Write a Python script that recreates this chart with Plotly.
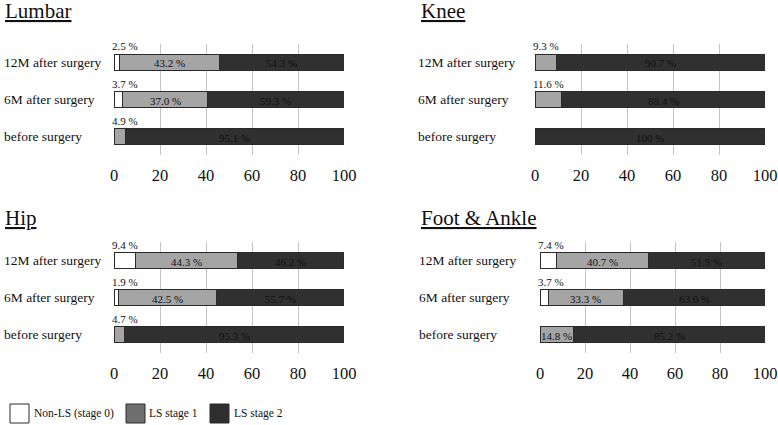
import plotly.graph_objects as go

# ---- data ----
categories = ["before surgery", "6M after surgery", "12M after surgery"]
panels = ["Lumbar", "Knee", "Hip", "Foot & Ankle"]
series_names = ["Non-LS (stage 0)", "LS stage 1", "LS stage 2"]

lumbar_stage0 = [0.0, 3.7, 2.5]
lumbar_stage1 = [4.9, 37.0, 43.2]
lumbar_stage2 = [95.1, 59.3, 54.3]

knee_stage0 = [0.0, 0.0, 0.0]
knee_stage1 = [0.0, 11.6, 9.3]
knee_stage2 = [100.0, 88.4, 90.7]

hip_stage0 = [0.0, 1.9, 9.4]
hip_stage1 = [4.7, 42.5, 44.3]
hip_stage2 = [95.3, 55.7, 46.2]

foot_stage0 = [0.0, 3.7, 7.4]
foot_stage1 = [14.8, 33.3, 40.7]
foot_stage2 = [85.2, 63.0, 51.9]

x_ticks = [0, 20, 40, 60, 80, 100]

# ---- styling ----
FONT = "Liberation Serif"
bar_colors = ["#ffffff", "#a5a5a5", "#303030"]
legend_colors = ["#ffffff", "#6e6e6e", "#2e2e2e"]
OUTSIDE_THRESHOLD = 12

panel_data = [
    (lumbar_stage0, lumbar_stage1, lumbar_stage2),
    (knee_stage0, knee_stage1, knee_stage2),
    (hip_stage0, hip_stage1, hip_stage2),
    (foot_stage0, foot_stage1, foot_stage2),
]

W, H = 778, 425
def px(x):
    return x / W
def py(y):
    return (H - y) / H

x_domains = [(114, 344), (535, 765), (114, 344), (540, 765)]
y_domains = [(44, 155), (44, 155), (242, 353), (242, 353)]
title_pos = [(3, 11), (419, 11), (3, 218), (419, 218)]
catlabel_x = [2, 416, 2, 417]

fig = go.Figure()
annotations = []

def fmt(v):
    return "100 %" if v >= 100 else f"{v:.1f} %"

for i, (name, stages) in enumerate(zip(panels, panel_data)):
    ax = "" if i == 0 else str(i + 1)
    xref, yref = "x" + ax, "y" + ax
    for s, vals in enumerate(stages):
        fig.add_trace(go.Bar(
            y=categories, x=vals, orientation="h",
            marker=dict(color=bar_colors[s], line=dict(color="#2a2a2a", width=1)),
            width=0.44, showlegend=False, name=series_names[s],
            xaxis=xref, yaxis=yref,
        ))
    # value labels
    for c, cat in enumerate(categories):
        cum = 0.0
        for s in range(3):
            v = stages[s][c]
            if v > 0:
                if v < OUTSIDE_THRESHOLD:
                    annotations.append(dict(
                        x=0, y=cat, xref=xref, yref=yref, text=fmt(v),
                        xanchor="left", yanchor="middle", xshift=-4, yshift=16,
                        showarrow=False, font=dict(family=FONT, size=11, color="#111")))
                else:
                    annotations.append(dict(
                        x=cum + v / 2, y=cat, xref=xref, yref=yref, text=fmt(v),
                        xanchor="center", yanchor="middle", yshift=-1,
                        showarrow=False, font=dict(family=FONT, size=11, color="#111")))
            cum += v
        # category label, left aligned
        annotations.append(dict(
            x=px(catlabel_x[i]), y=cat, xref="paper", yref=yref, text=cat,
            xanchor="left", yanchor="middle", showarrow=False,
            font=dict(family=FONT, size=13.5, color="#111")))
    # panel title
    tx, ty = title_pos[i]
    annotations.append(dict(
        x=px(tx), y=py(ty), xref="paper", yref="paper", text=f"<u>{name}</u>",
        xanchor="left", yanchor="middle", showarrow=False,
        font=dict(family=FONT, size=21, color="#111")))

    xd = x_domains[i]
    yd = y_domains[i]
    fig.update_layout(**{
        "xaxis" + ax: dict(
            domain=[px(xd[0]), px(xd[1])], range=[0, 100], tickvals=x_ticks,
            showgrid=True, gridcolor="#c4c4c4", gridwidth=1, zeroline=False,
            showline=False, ticks="", ticklabelstandoff=8,
            tickfont=dict(family=FONT, size=16.5, color="#111"),
            anchor="y" + ax, fixedrange=True, automargin=False),
        "yaxis" + ax: dict(
            domain=[py(yd[1]), py(yd[0])], categoryorder="array",
            categoryarray=categories, range=[-0.5, 2.5], showticklabels=False,
            showgrid=False, zeroline=False, showline=False, ticks="",
            anchor="x" + ax, fixedrange=True, automargin=False),
    })

# legend drawn as shapes + text
shapes = []
legend_box_x = [10, 126, 210]
legend_text_x = [32, 147, 232]
for s in range(3):
    x0 = legend_box_x[s]
    shapes.append(dict(type="rect", xref="paper", yref="paper",
                       x0=px(x0), x1=px(x0 + 19), y0=py(423), y1=py(404),
                       fillcolor=legend_colors[s], line=dict(color="#2a2a2a", width=1)))
    annotations.append(dict(
        x=px(legend_text_x[s]), y=py(413), xref="paper", yref="paper",
        text=series_names[s], xanchor="left", yanchor="middle", showarrow=False,
        font=dict(family=FONT, size=11.5, color="#111")))

fig.update_layout(
    width=W, height=H, margin=dict(l=0, r=0, t=0, b=0, pad=0, autoexpand=False),
    autosize=False,
    paper_bgcolor="white", plot_bgcolor="white", barmode="stack",
    annotations=annotations, shapes=shapes, showlegend=False,
)

post = (
    "document.documentElement.style.margin='0';"
    "document.documentElement.style.overflow='hidden';"
    "document.body.style.margin='0';"
    "document.body.style.padding='0';"
    "document.body.style.overflow='hidden';"
)
fig.write_html("out.html", config={"displayModeBar": False, "responsive": False},
               post_script=post)
